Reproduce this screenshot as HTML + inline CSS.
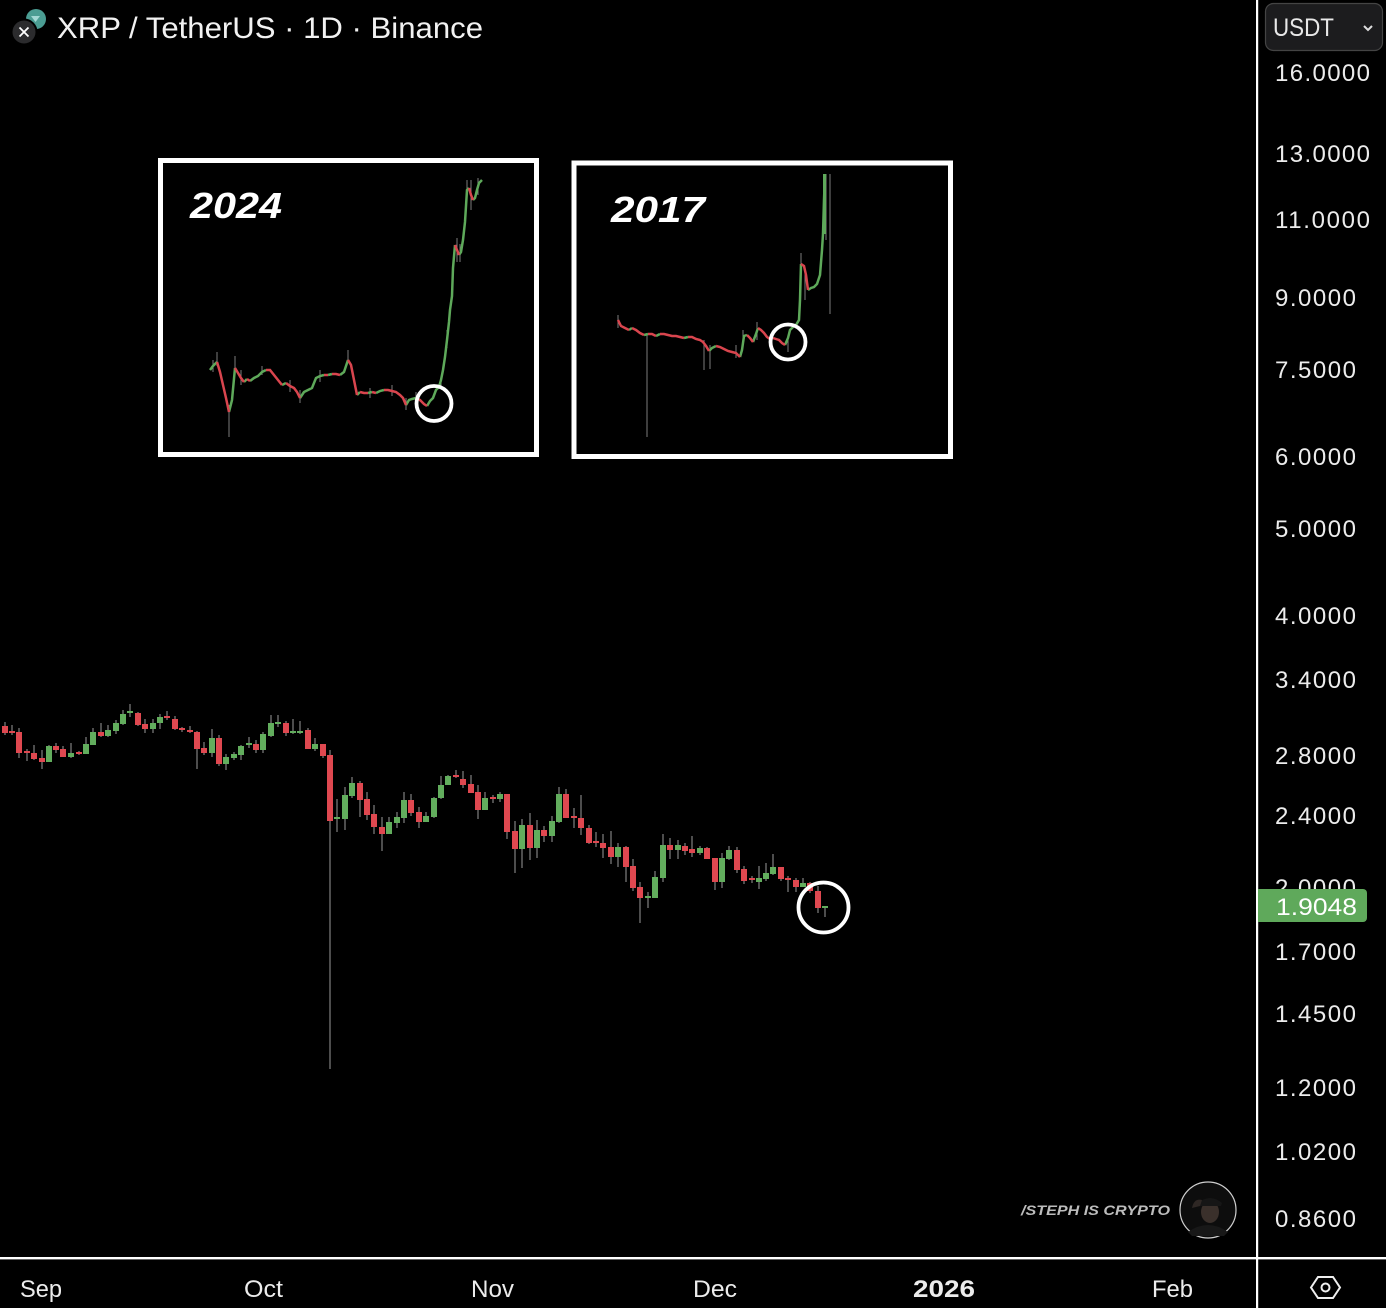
<!DOCTYPE html>
<html><head><meta charset="utf-8"><style>
html,body{margin:0;padding:0;background:#000;}
svg{display:block;}
text{font-family:"Liberation Sans",sans-serif;}
</style></head><body>
<svg width="1386" height="1308" viewBox="0 0 1386 1308" xmlns="http://www.w3.org/2000/svg">
<rect width="1386" height="1308" fill="#000"/>
<circle cx="36" cy="19" r="10" fill="#4b9d93"/>
<path d="M31 16h9l-4.5 6z" fill="#dff" opacity="0.6"/>
<circle cx="24" cy="32" r="12.5" fill="#2b2b2d" stroke="#000" stroke-width="2"/>
<path d="M19.5 27.5l9 9M28.5 27.5l-9 9" stroke="#fff" stroke-width="1.8"/>
<text x="57" y="38" font-size="30" fill="#f2f2f2" textLength="426" lengthAdjust="spacingAndGlyphs">XRP / TetherUS · 1D · Binance</text>
<rect x="1256" y="0" width="2.2" height="1308" fill="#fff"/>
<rect x="0" y="1257" width="1386" height="2.4" fill="#fff"/>
<rect x="1265.5" y="3.5" width="117" height="47" rx="8" fill="#1c1c1e" stroke="#444" stroke-width="1.2"/>
<text x="1273" y="36" font-size="25" fill="#e8e8e8" textLength="61" lengthAdjust="spacingAndGlyphs">USDT</text>
<path d="M1364 26l4 4 4-4" stroke="#ddd" stroke-width="2" fill="none"/>
<g font-size="24" fill="#ececec" lengthAdjust="spacingAndGlyphs">
<text x="1275" y="81" textLength="95">16.0000</text>
<text x="1275" y="162" textLength="95">13.0000</text>
<text x="1275" y="228" textLength="95">11.0000</text>
<text x="1275" y="306" textLength="81">9.0000</text>
<text x="1275" y="378" textLength="81">7.5000</text>
<text x="1275" y="465" textLength="81">6.0000</text>
<text x="1275" y="537" textLength="81">5.0000</text>
<text x="1275" y="624" textLength="81">4.0000</text>
<text x="1275" y="688" textLength="81">3.4000</text>
<text x="1275" y="764" textLength="81">2.8000</text>
<text x="1275" y="824" textLength="81">2.4000</text>
<text x="1275" y="896" textLength="81">2.0000</text>
<text x="1275" y="960" textLength="81">1.7000</text>
<text x="1275" y="1022" textLength="81">1.4500</text>
<text x="1275" y="1096" textLength="81">1.2000</text>
<text x="1275" y="1160" textLength="81">1.0200</text>
<text x="1275" y="1227" textLength="81">0.8600</text>
</g>
<path d="M1258 889h105a4 4 0 0 1 4 4v25a4 4 0 0 1-4 4h-105z" fill="#5fa95b"/>
<text x="1276" y="915" font-size="24" fill="#fff" textLength="81" lengthAdjust="spacingAndGlyphs">1.9048</text>
<g font-size="24" fill="#ececec">
<text x="20" y="1297" textLength="42" lengthAdjust="spacingAndGlyphs">Sep</text>
<text x="244" y="1297" textLength="39" lengthAdjust="spacingAndGlyphs">Oct</text>
<text x="471" y="1297" textLength="43" lengthAdjust="spacingAndGlyphs">Nov</text>
<text x="693" y="1297" textLength="44" lengthAdjust="spacingAndGlyphs">Dec</text>
<text x="913" y="1297" font-weight="bold" textLength="62" lengthAdjust="spacingAndGlyphs">2026</text>
<text x="1152" y="1297" textLength="41" lengthAdjust="spacingAndGlyphs">Feb</text>
</g>
<path d="M1311 1287.5l7-10.5h15l7 10.5-7 10.5h-15z" fill="none" stroke="#eee" stroke-width="2"/>
<circle cx="1325.5" cy="1287.5" r="4" fill="none" stroke="#eee" stroke-width="2"/>
<path stroke="#808080" stroke-width="1.2" fill="none" d="M5 722V735M12 725V735M19 728V758M27 749V761M34 745V760M42 750V769M49 745V762M56 743V753M63 746V757M71 743V758M79 751V755M86 737V754M93 728V745M101 723V737M108 725V737M116 720V734M123 710V725M130 704V717M138 712V726M145 719V733M153 719V733M160 714V729M167 711V720M175 716V730M182 727V732M190 726V733M197 731V769M204 742V755M212 729V757M219 735V766M226 754V770M234 752V760M241 745V760M249 737V748M256 740V753M263 732V753M271 715V737M278 715V727M286 721V736M293 719V734M300 721V734M308 728V749M315 738V751M323 744V758M330 750V1069M337 799V832M345 787V830M352 777V798M360 781V817M367 792V820M374 805V834M382 817V851M389 817V834M397 812V828M404 792V823M411 794V816M419 807V828M426 812V822M434 797V818M441 776V799M448 775V785M456 770V778M463 771V788M471 775V793M478 785V819M485 792V810M493 795V803M500 792V802M507 794V839M515 821V873M522 819V868M530 813V860M537 820V858M544 826V842M552 816V842M559 787V823M566 789V818M574 808V828M581 795V835M589 825V844M596 832V847M603 834V858M611 831V864M618 843V867M626 846V882M633 859V891M640 882V923M648 892V908M655 871V898M663 834V882M670 838V859M678 840V859M685 843V855M692 836V857M700 846V855M707 847V859M715 858V890M722 853V888M729 846V860M737 847V873M744 866V884M752 876V883M759 866V889M766 863V881M773 854V875M781 867V881M788 876V892M796 878V892M803 878V887M810 882V893M818 886V913M825 906V917"/>
<path fill="#df4850" d="M2 726h6v7h-6zM9 731h6v2h-6zM16 732h6v21h-6zM24 751h6v2h-6zM31 753h6v6h-6zM39 758h6v4h-6zM53 746h6v4h-6zM60 749h6v8h-6zM76 752h6v2h-6zM98 732h6v4h-6zM135 713h6v12h-6zM142 724h6v5h-6zM164 716h6v2h-6zM172 719h6v10h-6zM179 728h6v2h-6zM187 730h6v2h-6zM194 732h6v17h-6zM201 748h6v5h-6zM216 738h6v26h-6zM253 744h6v6h-6zM283 723h6v10h-6zM305 730h6v19h-6zM320 744h6v12h-6zM327 755h6v66h-6zM357 783h6v17h-6zM364 799h6v16h-6zM371 814h6v13h-6zM379 827h6v7h-6zM408 800h6v13h-6zM416 812h6v10h-6zM453 775h6v2h-6zM460 779h6v6h-6zM468 784h6v9h-6zM475 792h6v18h-6zM490 797h6v2h-6zM504 794h6v38h-6zM512 831h6v18h-6zM527 825h6v23h-6zM541 830h6v6h-6zM563 794h6v24h-6zM571 816h6v2h-6zM578 818h6v10h-6zM586 828h6v15h-6zM593 841h6v2h-6zM600 843h6v5h-6zM608 847h6v10h-6zM623 847h6v20h-6zM630 866h6v22h-6zM637 887h6v11h-6zM667 845h6v5h-6zM682 846h6v5h-6zM689 849h6v4h-6zM704 848h6v11h-6zM712 858h6v24h-6zM734 850h6v20h-6zM741 869h6v12h-6zM749 878h6v2h-6zM778 867h6v12h-6zM785 878h6v2h-6zM793 880h6v7h-6zM807 883h6v8h-6zM815 891h6v17h-6z"/>
<path fill="#62ad5d" d="M46 746h6v16h-6zM68 753h6v4h-6zM83 744h6v10h-6zM90 732h6v13h-6zM105 730h6v6h-6zM113 723h6v8h-6zM120 714h6v10h-6zM127 711h6v2h-6zM150 723h6v6h-6zM157 717h6v6h-6zM209 738h6v15h-6zM223 757h6v7h-6zM231 754h6v4h-6zM238 746h6v9h-6zM246 743h6v2h-6zM260 734h6v16h-6zM268 723h6v13h-6zM275 722h6v2h-6zM290 731h6v2h-6zM297 731h6v2h-6zM312 744h6v5h-6zM334 817h6v2h-6zM342 795h6v24h-6zM349 783h6v13h-6zM386 822h6v12h-6zM394 817h6v6h-6zM401 800h6v18h-6zM423 816h6v6h-6zM431 798h6v19h-6zM438 785h6v13h-6zM445 776h6v9h-6zM482 798h6v12h-6zM497 794h6v5h-6zM519 825h6v24h-6zM534 830h6v18h-6zM549 821h6v15h-6zM556 794h6v28h-6zM615 847h6v10h-6zM645 896h6v2h-6zM652 877h6v21h-6zM660 845h6v33h-6zM675 845h6v5h-6zM697 848h6v5h-6zM719 858h6v24h-6zM726 850h6v9h-6zM756 878h6v4h-6zM763 873h6v6h-6zM770 867h6v7h-6zM800 883h6v4h-6zM822 906h6v2h-6z"/>
<circle cx="823.5" cy="907.5" r="25" fill="none" stroke="#fff" stroke-width="3.8"/>
<rect x="160.5" y="160.5" width="376" height="294" fill="#000" stroke="#fff" stroke-width="5"/>
<text x="190" y="218" font-size="36" font-weight="bold" font-style="italic" fill="#fff" textLength="92" lengthAdjust="spacingAndGlyphs">2024</text>
<path stroke="#8a8a8a" stroke-width="0.9" fill="none" d="M217 352V366M229 405V437M235 356V372M262 366V375M348 350V362M300 390V403M406 398V410M453 262V290M457 238V262M467 180V200M471 180V210M478 178V195M213 360V372M241 370V385M290 380V392M320 370V382M370 388V398M392 385V396M416 392V402M441 376V388M447 330V348M460 244V262"/>
<path stroke="#5ea95a" stroke-width="2.5" fill="none" d="M210 370L213 366L217 362M229 412L232 400L235 368M244 382L247 379M250 381L254 378L258 376L262 372L266 370M282 385L286 383M300 398L304 392L308 390L312 388L316 378L320 376L324 375M328 375L332 374M340 375L344 372L348 360M357 395L360 392M368 393L372 392M376 393L380 391L384 390M406 405L409 400L412 399L416 398M427 406L430 401L433 398L436 390L439 387L441 380L443 370L445 357L447 340L449 322L450 310L452 296L453 268L455 245M459 255L461 252L463 240L465 222L467 190L469 188M473 200L475 198L477 190L479 183L482 180"/>
<path stroke="#d9454e" stroke-width="2.5" fill="none" d="M217 362L220 372L223 385L226 398L229 412M235 368L238 373L241 378L244 382M247 379L250 381M266 370L270 370L274 375L278 380L282 385M286 383L290 386L294 388L297 392L300 398M324 375L328 375M332 374L336 374L340 375M348 360L351 365L354 380L357 395M360 392L364 393L368 393M372 392L376 393M384 390L388 390L392 391L396 392L400 395L403 398L406 405M416 398L420 400L424 404L427 406M455 245L457 250L459 255M469 188L471 195L473 200"/>
<circle cx="434" cy="403.5" r="17.5" fill="none" stroke="#fff" stroke-width="3.8"/>
<rect x="574" y="163" width="376.5" height="293.5" fill="#000" stroke="#fff" stroke-width="5"/>
<text x="611" y="222" font-size="36" font-weight="bold" font-style="italic" fill="#fff" textLength="94" lengthAdjust="spacingAndGlyphs">2017</text>
<path stroke="#8a8a8a" stroke-width="0.9" fill="none" d="M618 315V328M647 335V437M710 345V369M743 330V345M757 322V340M788 340V352M801 253V270M805 270V300M830 174V314M826 174V240M704 340V370M736 345V358M772 332V344"/>
<path stroke="#5ea95a" stroke-width="2.5" fill="none" d="M629 330L632 328M644 335L648 334M656 336L660 334M684 338L688 337M709 351L712 348L716 346M740 357L742 350L744 336L747 335M753 342L756 334L758 328M770 339L773 338M785 345L788 338L790 330L793 327L796 325L799 320L800 300L801 264M808 290L811 288L814 287L817 284L820 275L822 250L823 234L824 200L825 174"/>
<path stroke="#5ea95a" stroke-width="3" fill="none" d="M824.5 174V234"/>
<path stroke="#d9454e" stroke-width="2.5" fill="none" d="M618 320L621 326L625 328L629 330M632 328L636 330L640 333L644 335M648 334L652 334L656 336M660 334L664 334L668 335L672 336L676 336L680 337L684 338M688 337L692 337L696 339L700 340L703 342L706 346L709 351M716 346L720 347L724 349L728 351L732 352L736 353L740 357M747 335L750 338L753 342M758 328L761 330L764 333L767 337L770 339M773 338L776 339L779 340L782 343L785 345M801 264L804 266L806 275L808 290"/>
<circle cx="788" cy="342" r="17.5" fill="none" stroke="#fff" stroke-width="3.8"/>
<text x="1021" y="1215" font-size="14" font-weight="bold" font-style="italic" fill="#bcbcbc" textLength="149" lengthAdjust="spacingAndGlyphs">/STEPH IS CRYPTO</text>
<circle cx="1208" cy="1210" r="28" fill="#0d0d0d" stroke="#cfcfcf" stroke-width="1.2"/>
<ellipse cx="1210" cy="1212" rx="9" ry="11" fill="#3a302b"/>
<path d="M1198 1203q12-10 24 0l-1 3h-22z" fill="#161616"/>
<path d="M1192 1208q2-10 10-8l-2 6z" fill="#2e2724"/>
<path d="M1188 1232q20-14 40 0l-4 4h-32z" fill="#181818"/>
</svg>
</body></html>
